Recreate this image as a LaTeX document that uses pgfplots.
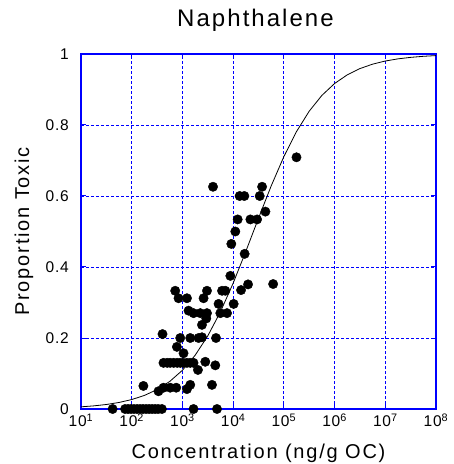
\documentclass[border=0pt]{standalone}
\usepackage{fontspec}
\setmainfont{Liberation Sans}
\newfontfamily\titlefont[LetterSpace=8.5]{Liberation Sans}
\newfontfamily\labfont[LetterSpace=9]{Liberation Sans}
\newfontfamily\tickfont[LetterSpace=5]{Liberation Sans}
\usepackage{pgfplots}
\pgfplotsset{compat=1.18}
\begin{document}
\begin{tikzpicture}
\begin{axis}[
  name=ax, at={(0,0)}, anchor=south west,
  scale only axis, width=355bp, height=355bp,
  xmode=log, xmin=10, xmax=1e8, ymin=0, ymax=1,
  clip=false,
  axis line style={blue, line width=1.8bp},
  grid=major,
  major grid style={blue, dash pattern=on 3bp off 2bp, line width=0.8bp},
  tick style={blue, line width=1bp},
  major tick length=5bp, tick align=inside,
  xminorticks=false, yminorticks=false,
  xtick={1e1,1e2,1e3,1e4,1e5,1e6,1e7,1e8},
  xticklabels={10\textsuperscript{1},10\textsuperscript{2},10\textsuperscript{3},10\textsuperscript{4},10\textsuperscript{5},10\textsuperscript{6},10\textsuperscript{7},10\textsuperscript{8}},
  ytick={0,0.2,0.4,0.6,0.8,1},
  yticklabels={0,0.2,0.4,0.6,0.8,1},
  xticklabel style={font=\tickfont\fontsize{15.5bp}{18bp}\selectfont, anchor=base, inner sep=0pt, yshift=-17.5bp},
  yticklabel style={font=\tickfont\fontsize{15.5bp}{18bp}\selectfont, anchor=east, inner sep=0pt, xshift=-12bp},
  title={Naphthalene},
  title style={at={([xshift=-3bp,yshift=21.7bp]axis description cs:0.5,1)}, anchor=base, inner sep=0pt, font=\titlefont\fontsize{24bp}{28bp}\selectfont},
  xlabel={Concentration (ng/g OC)},
  xlabel style={at={([yshift=-49bp]axis description cs:0.5,0)}, anchor=base, inner sep=0pt, font=\labfont\fontsize{20bp}{24bp}\selectfont},
  ylabel={Proportion Toxic},
  ylabel style={at={([xshift=-52bp]axis description cs:0,0.5)}, anchor=base, rotate=0, inner sep=0pt, font=\labfont\fontsize{20bp}{24bp}\selectfont},
]
% fitted curve
\addplot[black, line width=0.8bp] coordinates {
(10,0.0061) (17.78,0.0088) (31.62,0.0127) (56.23,0.0184) (100,0.0266)
(177.8,0.0382) (316.2,0.0547) (562.3,0.0776) (1000,0.1091) (1778,0.1512)
(3162,0.2059) (5623,0.2739) (10000,0.3543) (17783,0.4440) (31623,0.5374)
(56234,0.6283) (100000,0.7109) (177828,0.7816) (316228,0.8389) (562341,0.8834)
(1000000,0.9168) (1778279,0.9413) (3162278,0.9589) (5623413,0.9714) (10000000,0.9802)
(17782794,0.9863) (31622777,0.9905) (56234133,0.9935) (100000000,0.9955)
};
% observations
\addplot[only marks, mark=*, mark size=4.7bp, black] coordinates {
(42,0) (74,0) (85,0) (97,0) (111,0) (128,0) (147,0) (168,0) (193,0) (221,0)
(253,0) (290,0) (333,0) (394,0) (1656,0) (4808,0)
(170,0.065) (337,0.05) (423,0.06) (574,0.06) (754,0.06) (1228,0.056) (1426,0.068) (3828,0.068)
(423,0.13) (501,0.13) (574,0.13) (673,0.13) (789,0.13) (905,0.13) (1037,0.13) (1228,0.13)
(1426,0.13) (1656,0.13) (2824,0.133) (4447,0.123) (2023,0.11)
(405,0.211) (778,0.175) (1052,0.157) (905,0.2) (1426,0.2) (2080,0.2) (2427,0.202) (4592,0.2)
(1321,0.277) (1656,0.27) (2249,0.27) (3049,0.27) (5585,0.27) (7570,0.27) (5164,0.296) (10240,0.296)
(2427,0.237) (2951,0.255)
(721,0.333) (838,0.312) (1228,0.312) (2612,0.312) (3049,0.333) (6039,0.333) (7018,0.333) (14320,0.335)
(8808,0.375) (19680,0.351) (61500,0.352)
(9210,0.465) (16860,0.437) (11040,0.5) (12280,0.534) (21880,0.534) (29650,0.534) (43250,0.556)
(33420,0.6) (37240,0.626) (13430,0.6) (16630,0.6) (4010,0.626) (177400,0.709)
};
\end{axis}
\path (ax.south west) ++(-81bp,-55bp) rectangle ++(454bp,464bp);
\end{tikzpicture}
\end{document}
